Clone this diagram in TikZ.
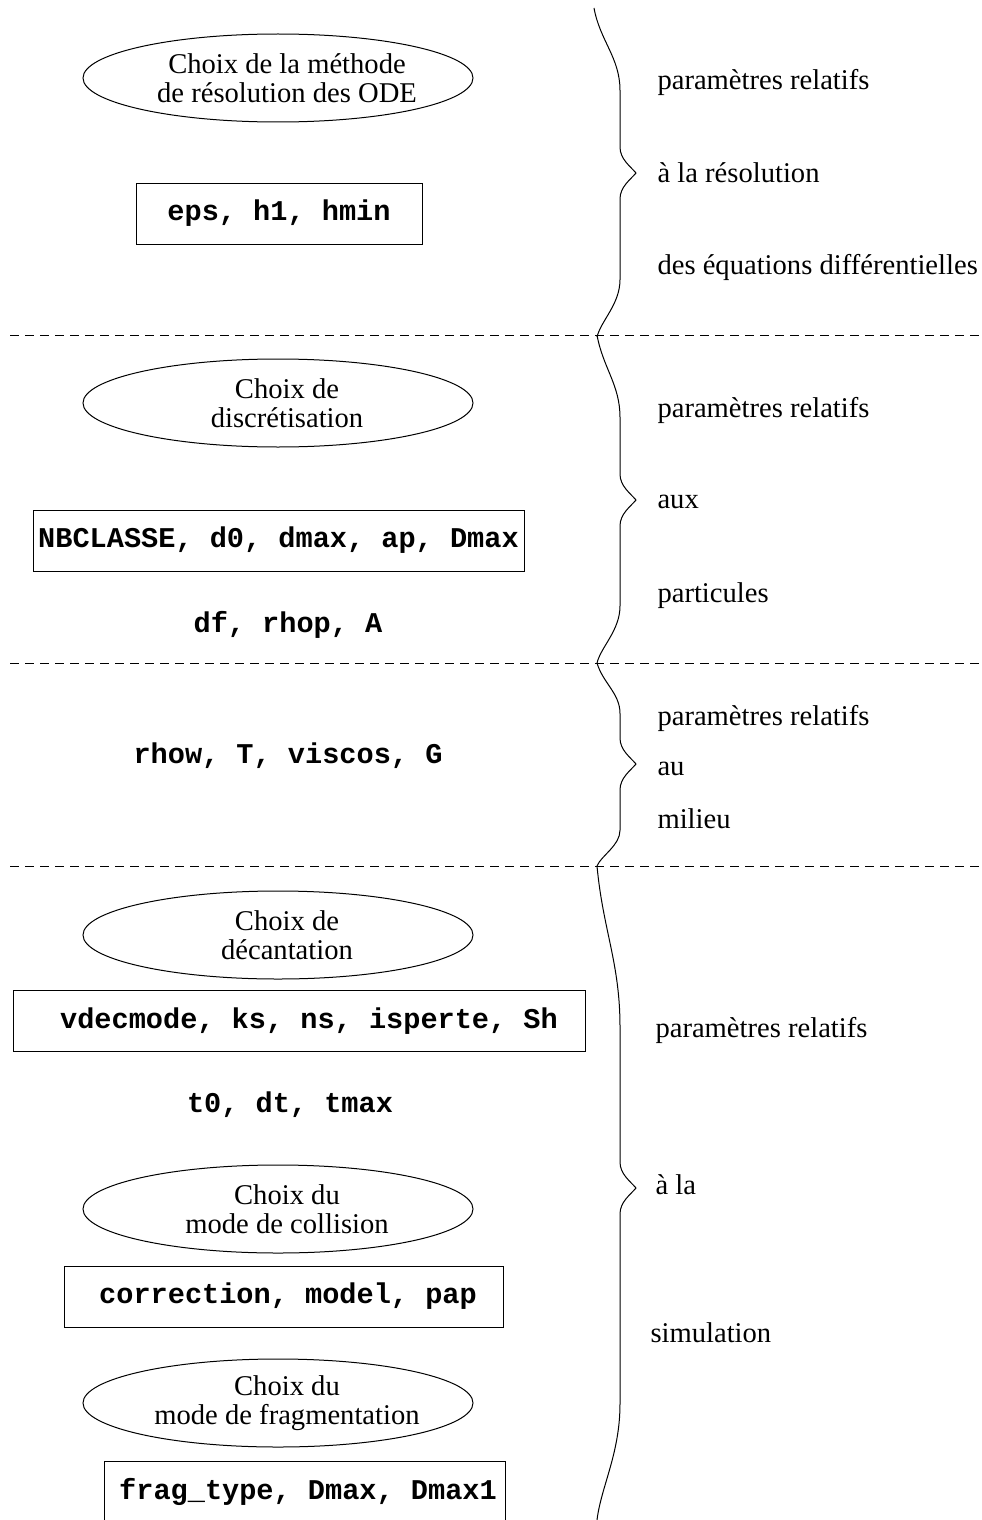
\documentclass[tikz,border=0pt]{standalone}
\usepackage{fontspec}
\setmainfont{Liberation Serif}
\setmonofont{Liberation Mono}
\usetikzlibrary{shapes.geometric}
\newcommand{\accolade}[4]{%
  \draw (#1,#2) .. controls ({#1+6},{#2+0.2*(#3-#2)}) and (620,{#2+0.3*(#3-#2)}) .. (620,{#2+0.5*(#3-#2)})
    -- (620,{#3-26}) .. controls (620,{#3-14}) and (630,{#3-7}) .. (636,#3)
    .. controls (630,{#3+7}) and (620,{#3+14}) .. (620,{#3+26})
    -- (620,{#4-0.35*(#4-#3)}) .. controls (620,{#4-0.2*(#4-#3)}) and (601,{#4-0.1*(#4-#3)}) .. (597,#4);
}
\tikzset{
  txt/.style={font=\fontsize{14.3}{14.5}\selectfont},
  choix/.style={txt, align=center, inner sep=0pt},
  param/.style={draw, txt, font=\fontsize{14.3}{14.5}\selectfont\ttfamily\bfseries, minimum height=30.5pt, inner sep=0pt},
  var/.style={anchor=base, inner sep=0pt, font=\fontsize{14.3}{14.5}\selectfont\ttfamily\bfseries},
  note/.style={txt, anchor=base west, inner sep=0pt},
  sep/.style={dash pattern=on 4.5pt off 3pt}
}
\begin{document}
\begin{tikzpicture}[x=0.5pt, y=-0.5pt, line width=0.5pt]
    \useasboundingbox (0,0) rectangle (981,1520);
    \foreach \y in {335, 663, 866} {
        \draw[sep] (10,\y) -- (981,\y);
    }
    \accolade{594}{8}{173}{337}
    \accolade{597}{335}{500}{663}
    \accolade{597}{663}{764}{866}
    \accolade{597}{866}{1188}{1520}

    \node[choix] (ode) at (287,78) {Choix de la méthode\\de résolution des ODE};
    \node[param, minimum width=143pt] (eps) at (279,213.5) {eps, h1, hmin};
    \node[note] (r1a) at (657,90) {paramètres relatifs};
    \node[note] (r1b) at (657,183) {à la résolution};
    \node[note] (r1c) at (657,274) {des équations différentielles};

    \node[choix] (discr) at (287,403) {Choix de\\discrétisation};
    \node[param, minimum width=245.5pt] (nbcl) at (278.5,540.5) {NBCLASSE, d0, dmax, ap, Dmax};
    \node[var] (df) at (288,632) {df, rhop, A};
    \node[note] (r2a) at (657,417) {paramètres relatifs};
    \node[note] (r2b) at (657,508) {aux};
    \node[note] (r2c) at (657,602) {particules};

    \node[var] (rhow) at (288,763) {rhow, T, viscos, G};
    \node[note] (r3a) at (657,725) {paramètres relatifs};
    \node[note] (r3b) at (657,775) {au};
    \node[note] (r3c) at (657,828) {milieu};

    \node[choix] (decant) at (287,935) {Choix de\\décantation};
    \node[param, minimum width=286pt] (vdec) at (299,1021) {\hspace*{10pt}vdecmode, ks, ns, isperte, Sh};
    \node[var] (t0) at (290,1112) {t0, dt, tmax};
    \node[choix] (coll) at (287,1209) {Choix du\\mode de collision};
    \node[param, minimum width=219.5pt] (corr) at (283.5,1296.5) {\hspace*{4.5pt}correction, model, pap};
    \node[choix] (frag) at (287,1403) {Choix du\\mode de fragmentation};
    \node[param, minimum width=200.5pt] (ftype) at (304.5,1492) {\hspace*{3.5pt}frag\_type, Dmax, Dmax1};
    \node[note] (r4a) at (655,1037) {paramètres relatifs};
    \node[note] (r4b) at (655,1194) {à la};
    \node[note] (r4c) at (650,1342) {simulation};

    \foreach \n in {ode, discr, decant, coll, frag} {
        \draw ([xshift=-4.5pt]\n.center) ellipse [x radius=195, y radius=44];
    }
\end{tikzpicture}
\end{document}
